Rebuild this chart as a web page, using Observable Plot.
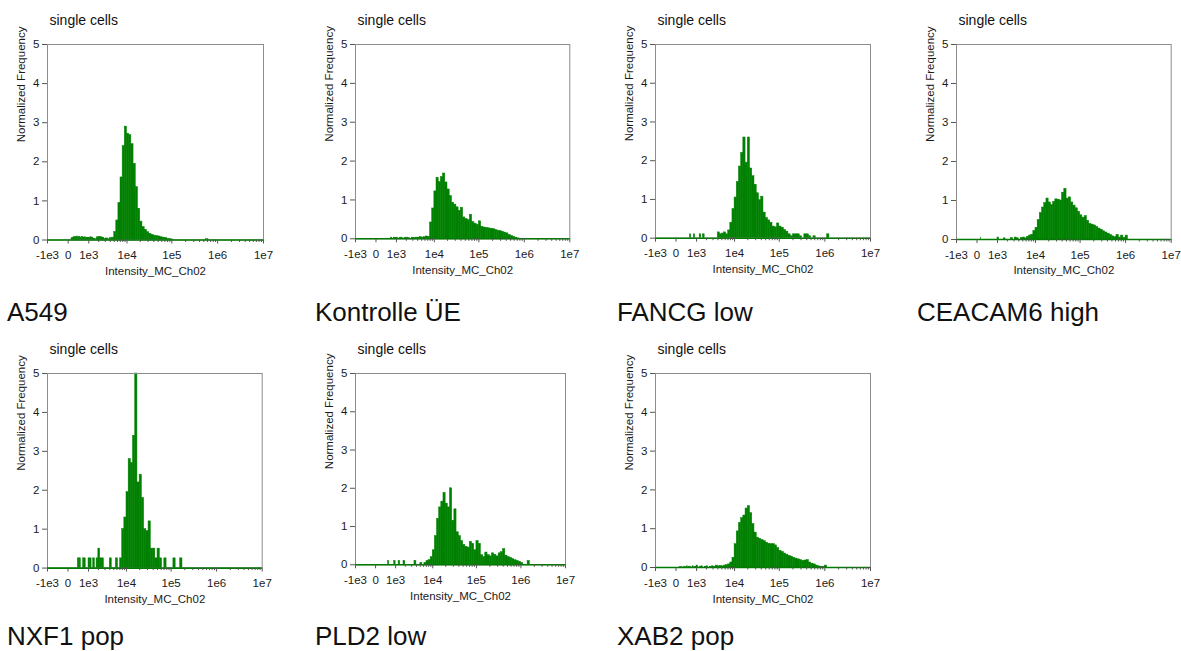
<!DOCTYPE html>
<html><head><meta charset="utf-8">
<script src="https://cdn.jsdelivr.net/npm/d3@7"></script>
<script src="https://cdn.jsdelivr.net/npm/@observablehq/plot@0.6"></script>
<style>
body{margin:0;background:#fff;}
#root{position:relative;width:1181px;height:651px;overflow:hidden;font-family:"Liberation Sans",Arial,sans-serif;color:#111;background:#fff;}
.t{position:absolute;white-space:nowrap;line-height:1;}
</style></head><body><div id="root"></div>
<script>
// Histogram bin edges, as log10 exponents of the intensity
const binExp = [
 2.00,2.05,2.10,2.15,2.20,2.25,2.30,2.35,2.40,2.45,
 2.50,2.55,2.60,2.65,2.70,2.75,2.80,2.85,2.90,2.95,
 3.00,3.05,3.10,3.15,3.20,3.25,3.30,3.35,3.40,3.45,
 3.50,3.55,3.60,3.65,3.70,3.75,3.80,3.85,3.90,3.95,
 4.00,4.05,4.10,4.15,4.20,4.25,4.30,4.35,4.40,4.45,
 4.50,4.55,4.60,4.65,4.70,4.75,4.80,4.85,4.90,4.95,
 5.00,5.05,5.10,5.15,5.20,5.25,5.30,5.35,5.40,5.45,
 5.50,5.55,5.60,5.65,5.70,5.75,5.80,5.85,5.90,5.95,
 6.00,6.05,6.10,6.15,6.20,6.25,6.30,6.35,6.40,6.45,
 6.50];

const samples = ["A549","Kontrolle ÜE","FANCG low","CEACAM6 high","NXF1 pop","PLD2 low","XAB2 pop"];

// Normalized frequency per bin
const hA549 = [
 0.03,0.05,0.04,0.06,0.05,0.07,0.08,0.06,0.08,0.07,
 0.09,0.06,0.08,0.07,0.05,0.08,0.06,0.07,0.05,0.06,
 0.05,0.07,0.06,0.03,0.02,0.07,0.08,0.07,0.06,0.03,
 0.04,0.02,0.05,0.06,0.2,0.5,0.95,1.6,2.4,2.9,
 2.72,2.68,2.45,1.95,1.35,0.8,0.47,0.33,0.26,0.2,
 0.16,0.13,0.11,0.1,0.09,0.07,0.06,0.05,0.03,0.02,
 0.01,0,0,0,0,0,0,0,0,0,
 0,0,0,0,0,0.02,0,0,0,0,
 0,0,0,0,0,0,0,0,0,0];
const hKontrolle = [
 0,0,0,0,0,0,0,0,0,0,
 0,0,0,0,0,0,0.03,0,0.03,0.02,
 0.03,0,0.02,0.03,0,0.02,0.03,0.02,0,0.03,
 0.02,0.03,0.03,0.04,0.03,0.04,0.06,0.05,0.42,0.78,
 1.22,1.57,1.46,1.59,1.68,1.45,1.27,1.1,0.93,0.88,
 0.81,0.72,0.8,0.55,0.51,0.48,0.62,0.43,0.39,0.36,
 0.45,0.31,0.29,0.28,0.27,0.26,0.25,0.23,0.21,0.2,
 0.18,0.16,0.14,0.1,0.07,0.05,0.03,0.01,0,0,
 0,0,0,0,0,0,0,0,0,0];
const hFANCG = [
 0,0,0,0,0,0,0,0,0,0,
 0,0,0,0,0,0.1,0,0,0.1,0,
 0,0,0.1,0,0.1,0,0,0,0,0,
 0,0,0.15,0.1,0.12,0.15,0.1,0.2,0.4,0.75,
 1.05,1.45,1.85,2.2,2.6,1.95,2.6,1.8,1.6,1.38,
 1.16,0.98,1.07,0.66,0.52,0.46,0.4,0.3,0.28,0.38,
 0.3,0.27,0.21,0.17,0.1,0.05,0.1,0.1,0.1,0.05,
 0,0.1,0.1,0.05,0,0.05,0,0,0,0,
 0,0.1,0,0,0,0,0,0,0,0];
const hCEACAM6 = [
 0,0.05,0,0,0,0,0,0,0,0,
 0,0,0,0,0,0,0,0,0,0,
 0.05,0,0,0,0.03,0,0,0,0.04,0,
 0.05,0.03,0,0.04,0.05,0.03,0.07,0.1,0.12,0.22,
 0.3,0.5,0.68,0.82,0.93,1.05,0.95,0.88,0.96,1.03,
 1.02,1.0,1.2,1.3,1.05,1.08,0.95,0.87,0.8,0.71,
 0.62,0.56,0.6,0.48,0.4,0.38,0.36,0.32,0.28,0.25,
 0.21,0.18,0.15,0.12,0.08,0.06,0.12,0.05,0.1,0.04,
 0.1,0,0,0,0,0,0,0,0,0];
const hNXF1 = [
 0,0,0,0,0,0,0,0,0,0,
 0,0.25,0.25,0.25,0,0,0.25,0.25,0,0,
 0.25,0.25,0,0.25,0,0.25,0.5,0.25,0.25,0,
 0,0,0.25,0,0,0.25,0,0.25,1.0,1.3,
 1.95,2.8,2.7,3.4,5.0,2.2,2.4,1.8,1.0,0.95,
 1.2,0.5,0.5,0.25,0.5,0.25,0,0.25,0,0,
 0,0.25,0,0,0.25,0,0,0,0,0,
 0,0,0,0,0,0,0,0,0,0,
 0,0,0,0,0,0,0,0,0,0];
const hPLD2 = [
 0,0,0,0,0,0,0,0,0,0,
 0,0,0,0,0.1,0,0,0,0,0.1,
 0,0,0.1,0,0,0.1,0,0,0,0,
 0,0.1,0,0,0.05,0,0.05,0.1,0.12,0.2,
 0.38,0.75,1.2,1.5,1.65,1.88,1.6,1.5,2.0,1.15,
 1.45,0.85,0.75,0.62,0.52,0.47,0.45,0.6,0.55,0.38,
 0.62,0.55,0.25,0.2,0.32,0.25,0.22,0.3,0.26,0.22,
 0.3,0.33,0.41,0.24,0.2,0.18,0.15,0.12,0.1,0.08,
 0.05,0,0,0.1,0,0,0,0,0,0];
const hXAB2 = [
 0,0.02,0,0.02,0,0.02,0,0,0.02,0,
 0.02,0,0.03,0,0.02,0.02,0,0.03,0,0.02,
 0.05,0,0.02,0.03,0,0.02,0.03,0,0.02,0.03,
 0.02,0.05,0.03,0.04,0.03,0.05,0.06,0.08,0.13,0.25,
 0.6,0.93,1.15,1.27,1.34,1.52,1.58,1.4,1.12,0.9,
 0.77,0.74,0.71,0.68,0.64,0.61,0.6,0.6,0.57,0.5,
 0.43,0.4,0.36,0.33,0.3,0.28,0.25,0.23,0.21,0.19,
 0.17,0.18,0.19,0.13,0.1,0.08,0.05,0.03,0.01,0.01,
 0.05,0,0,0,0,0,0,0,0,0];
const heightsBySample = [hA549, hKontrolle, hFANCG, hCEACAM6, hNXF1, hPLD2, hXAB2];

const yTicks = [0, 1, 2, 3, 4, 5];
const xTickValues = [-1e3, 0, 1e3, 1e4, 1e5, 1e6, 1e7];
const xTickLabels = ["-1e3", "0", "1e3", "1e4", "1e5", "1e6", "1e7"];
const xMinorTicks = [2e3,3e3,4e3,5e3,6e3,7e3,8e3,9e3,
                     2e4,3e4,4e4,5e4,6e4,7e4,8e4,9e4,
                     2e5,3e5,4e5,5e5,6e5,7e5,8e5,9e5,
                     2e6,3e6,4e6,5e6,6e6,7e6,8e6,9e6];
const panelTitle = "single cells";
const xLabel = "Intensity_MC_Ch02";
const yLabel = "Normalized Frequency";

// Layout (plot-area boxes, in page pixels)
const layout = [
  {left: 47,  top: 43.5,  w: 216,   h: 195.5, labelX: 7,   row: 0},
  {left: 355, top: 44,    w: 214.3, h: 194.3, labelX: 315, row: 0},
  {left: 655, top: 44,    w: 215,   h: 193.7, labelX: 617, row: 0},
  {left: 956, top: 44,    w: 214.7, h: 195,   labelX: 917, row: 0},
  {left: 47,  top: 372.7, w: 214.7, h: 194.6, labelX: 7,   row: 1},
  {left: 355, top: 372.7, w: 210,   h: 191.3, labelX: 315, row: 1},
  {left: 655, top: 372.7, w: 215,   h: 194,   labelX: 617, row: 1}
];
const titleBaseline = [25, 354];
const nameBaseline = [321, 645];
const fontFam = '"Liberation Sans", Arial, sans-serif';

const root = document.getElementById("root");
function addText(str, x, baseline, size) {
  const d = document.createElement("div");
  d.className = "t";
  d.textContent = str;
  d.style.left = x + "px";
  d.style.top = (baseline - 0.8465 * size) + "px";
  d.style.fontSize = size + "px";
  root.appendChild(d);
}

layout.forEach((L, k) => {
  const heights = heightsBySample[k];
  const bins = [];
  for (let i = 0; i < heights.length; i++) {
    if (heights[i] > 0) bins.push({x1: 10 ** binExp[i], x2: 10 ** binExp[i + 1], y: heights[i]});
  }
  const mL = 47, mT = 10, mR = 10, mB = 45;
  const chart = Plot.plot({
    width: L.w + mL + mR,
    height: L.h + mT + mB,
    marginLeft: mL, marginTop: mT, marginRight: mR, marginBottom: mB,
    style: {fontFamily: fontFam, fontSize: "11.5px", color: "#1a1a1a", background: "transparent", overflow: "visible"},
    x: {type: "symlog", constant: 550, domain: [-1e3, 1e7]},
    y: {domain: [0, 5]},
    marks: [
      Plot.rectY(bins, {x1: "x1", x2: "x2", y: "y", fill: "#008000", stroke: "#008000", strokeWidth: 0.5}),
      Plot.frame({stroke: "#8c8c8c"}),
      Plot.ruleY([0], {stroke: "#007a00", strokeWidth: 1.6}),
      Plot.axisY(yTicks, {tickSize: 5, tickPadding: 3, label: null, stroke: "#555"}),
      Plot.axisX(xTickValues, {tickSize: 4, tickPadding: 7, label: null, stroke: "#555",
        tickFormat: d => xTickLabels[xTickValues.indexOf(d)]}),
      Plot.axisX(xMinorTicks, {tickSize: 2.5, label: null, stroke: "#555", tickFormat: () => ""}),
      Plot.text([yLabel], {text: d => d, frameAnchor: "left", rotate: -90, dx: -26, fontSize: 11.5}),
      Plot.text([xLabel], {text: d => d, frameAnchor: "bottom", dy: 35, fontSize: 11.5})
    ]
  });
  chart.style.position = "absolute";
  chart.style.left = (L.left - mL) + "px";
  chart.style.top = (L.top - mT) + "px";
  root.appendChild(chart);
  addText(panelTitle, L.left + 2.5, titleBaseline[L.row], 14);
  addText(samples[k], L.labelX, nameBaseline[L.row], 26);
});
</script></body></html>
